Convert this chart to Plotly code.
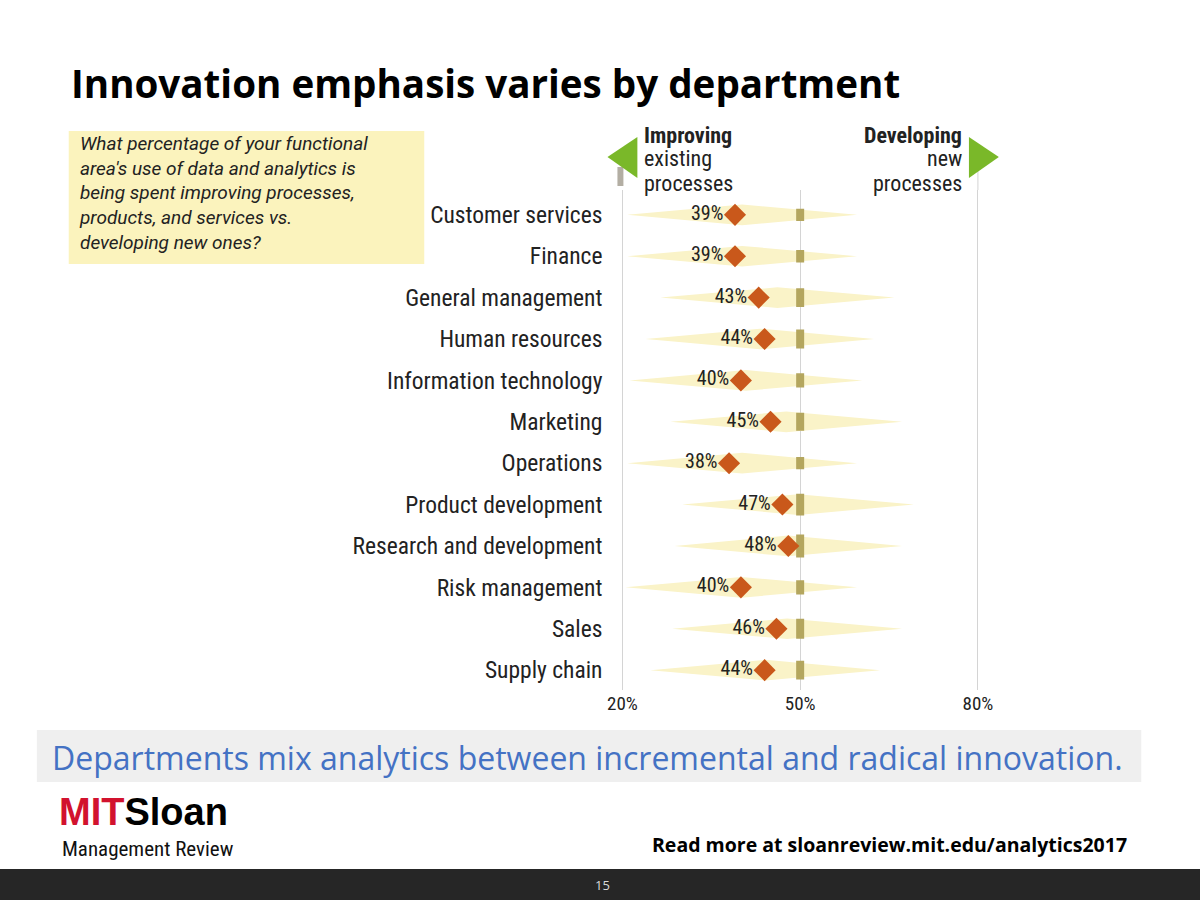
import plotly.graph_objects as go

# ---------------- data ----------------
departments = [
    "Customer services", "Finance", "General management", "Human resources",
    "Information technology", "Marketing", "Operations", "Product development",
    "Research and development", "Risk management", "Sales", "Supply chain",
]
improving_pct = [39, 39, 43, 44, 40, 45, 38, 47, 48, 40, 46, 44]
spread_low = [20.8, 20.8, 26.4, 23.9, 21.2, 28.1, 20.8, 30.1, 28.8, 20.5, 28.4, 24.7]
spread_high = [59.6, 59.6, 65.9, 62.5, 60.5, 67.2, 59.6, 69.2, 67.2, 59.6, 67.2, 63.5]
midpoint_weight = [0.62, 0.62, 0.95, 0.95, 0.72, 0.9, 0.62, 1.1, 1.15, 0.72, 1.0, 0.95]
midpoint_value = 50
x_tick_vals = [20, 50, 80]
x_tick_text = ["20%", "50%", "80%"]

# ---------------- styling ----------------
W, H = 1200, 900
COND = "Liberation Sans Narrow, Arial Narrow, Roboto Condensed, DejaVu Sans Condensed, sans-serif"
SANS = "Open Sans, Lato, sans-serif"
PLOT_L, PLOT_R, PLOT_T, PLOT_B = 610, 1000, 190, 690
X_RANGE = [18.32, 83.87]
Y_RANGE = [11.48, -0.60]
BAND_HALF = 0.25
BAR_HALF = 0.24


def px(x):
    return x / W


def py(y):
    return 1 - y / H


rows = list(range(len(departments)))

fig = go.Figure()

# pale spread bands
bx, by = [], []
for i, lo, hi in zip(rows, spread_low, spread_high):
    mid = (lo + hi) / 2
    bx += [lo, mid, hi, mid, lo, None]
    by += [i, i - BAND_HALF, i, i + BAND_HALF, i, None]
fig.add_trace(go.Scatter(
    x=bx, y=by, mode="lines", fill="toself", fillcolor="#faf3c8",
    line=dict(width=0, color="#faf3c8"), hoverinfo="skip", showlegend=False,
))

# 50% midpoint bars
mx, my = [], []
for i, w in zip(rows, midpoint_weight):
    mx += [midpoint_value, midpoint_value, None]
    my += [i - w * BAR_HALF, i + w * BAR_HALF, None]
fig.add_trace(go.Scatter(
    x=mx, y=my, mode="lines", line=dict(width=8, color="#b4a65e"),
    hoverinfo="skip", showlegend=False,
))

# diamonds with labels
fig.add_trace(go.Scatter(
    x=improving_pct, y=rows, mode="markers+text",
    marker=dict(symbol="diamond", size=17, color="#c9581b", line=dict(width=0)),
    text=[f"{v}%" for v in improving_pct], textposition="middle left",
    textfont=dict(family=COND, size=20, color="#222222"),
    showlegend=False, hoverinfo="skip",
))

shapes = []
# background decorations
shapes.append(dict(type="rect", xref="paper", yref="paper", x0=px(64), x1=px(421),
                   y0=py(264), y1=py(131), fillcolor="#fbf3bd", line=dict(width=0), layer="below"))
shapes.append(dict(type="rect", xref="paper", yref="paper", x0=px(32), x1=px(1141),
                   y0=py(782), y1=py(730), fillcolor="#efefef", line=dict(width=0), layer="below"))
shapes.append(dict(type="rect", xref="paper", yref="paper", x0=-0.01, x1=1.01,
                   y0=-0.01, y1=py(869), fillcolor="#262626", line=dict(width=0), layer="below"))
# 80% gridline extension and 20% tab
shapes.append(dict(type="line", xref="x", yref="paper", x0=80, x1=80,
                   y0=py(190), y1=py(168), line=dict(color="#d4d4d4", width=1)))
shapes.append(dict(type="rect", xref="paper", yref="paper", x0=px(615), x1=px(621),
                   y0=py(186), y1=py(167), fillcolor="#b3aea3", line=dict(width=0)))
# green arrows
shapes.append(dict(type="path", xref="paper", yref="paper",
                   path=f"M {px(605)} {py(157)} L {px(635)} {py(137)} L {px(635)} {py(178)} Z",
                   fillcolor="#7ab829", line=dict(width=0)))
shapes.append(dict(type="path", xref="paper", yref="paper",
                   path=f"M {px(998)} {py(157)} L {px(968)} {py(137)} L {px(968)} {py(178)} Z",
                   fillcolor="#7ab829", line=dict(width=0)))

ann = []


def text(x, y, s, size, family, color="#222222", xanchor="left", yanchor="middle", align="left"):
    ann.append(dict(x=px(x), y=py(y), xref="paper", yref="paper", text=s, showarrow=False,
                    xanchor=xanchor, yanchor=yanchor, align=align,
                    font=dict(size=size, family=family, color=color)))


# title
text(64, 83, "<b>Innovation emphasis varies by department</b>", 38.6, SANS, "#000000")
# question box
q_lines = ["What percentage of your functional", "area's use of data and analytics is",
           "being spent improving processes,", "products, and services vs.",
           "developing new ones?"]
text(72, 193, "<i>" + "<br>".join(q_lines) + "</i>", 19, "Roboto, sans-serif", "#222222")
# header
text(640, 135, "<b>Improving</b>", 22, COND, "#222222")
text(640, 159, "existing", 22, COND, "#222222")
text(640, 183, "processes", 22, COND, "#222222")
text(963, 135, "<b>Developing</b>", 22, COND, "#222222", xanchor="right")
text(963, 159, "new", 22, COND, "#222222", xanchor="right")
text(963, 183, "processes", 22, COND, "#222222", xanchor="right")
# subtitle
text(45, 757, "Departments mix analytics between incremental and radical innovation.",
     32, SANS, "#4472c4")
# footer
text(1129, 844, "<b>Read more at sloanreview.mit.edu/analytics2017</b>", 19.5, SANS, "#000000",
     xanchor="right")
text(600, 885, "15", 13, SANS, "#d9d9d9", xanchor="center")
# logo
text(52, 812, "<b><span style='color:#d2122e'>MIT</span>Sloan</b>", 38,
     "Liberation Sans, Arial, sans-serif", "#000000")
text(55, 849, "Management Review", 21, COND, "#111111")

fig.update_layout(
    width=W, height=H, margin=dict(l=0, r=0, t=0, b=0),
    paper_bgcolor="#ffffff", plot_bgcolor="rgba(0,0,0,0)",
    shapes=shapes, annotations=ann, showlegend=False,
    xaxis=dict(domain=[px(PLOT_L), px(PLOT_R)], range=X_RANGE, tickvals=x_tick_vals,
               ticktext=x_tick_text, showgrid=True, gridcolor="#d4d4d4", gridwidth=1,
               zeroline=False, showline=False, ticks="", fixedrange=True,
               tickfont=dict(family=COND, size=19, color="#222222")),
    yaxis=dict(domain=[py(PLOT_B), py(PLOT_T)], range=Y_RANGE, tickvals=rows,
               ticktext=departments, showgrid=False, zeroline=False, showline=False,
               ticks="", ticklabelstandoff=9, fixedrange=True,
               tickfont=dict(family=COND, size=23.5, color="#222222")),
)

fig.write_html("out.html")
